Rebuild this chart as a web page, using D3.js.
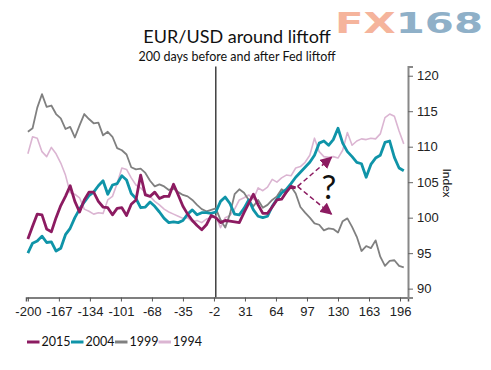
<!DOCTYPE html>
<html>
<head>
<meta charset="utf-8">
<script src="https://cdn.jsdelivr.net/npm/d3@7"></script>
<style>
  body { margin: 0; background: #fff; }
  svg { display: block; font-family: Lato, "Noto Sans", sans-serif; }
  .tick text { fill: #222; font-size: 13px; }
</style>
</head>
<body>
<svg id="chart" width="491" height="370"></svg>
<script>
// days relative to Fed liftoff, every 5 trading days
const days = d3.range(-200, 201, 5);

const series2015 = [
  97.0, 98.8, 100.5, 100.4, 98.4, 98.0, 100.0, 101.7, 103.0, 104.5,
  102.3, 100.8, 102.5, 103.6, 103.6, 102.3, 101.5, 101.4, 100.4, 101.3,
  101.4, 100.3, 101.9, 102.5, 106.0, 103.2, 103.0, 103.6, 102.7, 103.0,
  103.0, 104.7, 103.2, 101.6, 100.5, 99.6, 98.9, 98.3, 99.0, 100.3,
  100.0, 99.3, 99.6, 99.5, 99.4, 99.3, 100.7, 102.0, 103.3, 101.8,
  100.6, 100.6, 101.5, 102.5, 102.6, 103.6, 104.4, 104.2,
  null, null, null, null, null, null, null, null, null, null, null, null,
  null, null, null, null, null, null, null, null, null, null, null
];

const series2004 = [
  95.0, 96.4, 96.7, 97.4, 96.5, 96.6, 95.3, 95.7, 97.6, 98.5,
  100.0, 101.2, 102.2, 103.1, 103.6, 104.5, 105.2, 103.3, 104.6, 104.8,
  105.9, 105.3, 103.4, 102.7, 101.4, 101.5, 102.2, 101.6, 100.8, 99.9,
  99.3, 99.4, 99.3, 99.6, 100.5, 101.1, 100.4, 100.7, 100.7, 100.6,
  100.8, 102.3, 102.9, 102.0, 100.5, 100.4, 101.3, 102.5, 101.1, 100.2,
  100.0, 100.2, 101.6, 102.6, 103.5, 104.0, 104.8, 105.7, 106.4, 107.1,
  107.8, 108.8, 110.5, 110.8, 110.2, 111.0, 112.6, 110.5, 109.3, 108.6,
  107.8, 107.6, 105.7, 107.5, 108.4, 108.8, 110.6, 110.8, 108.5, 107.0,
  106.6
];

const series1999 = [
  112.1, 112.6, 115.5, 117.4, 115.6, 115.8, 114.6, 114.0, 112.5, 112.8,
  111.3, 113.0, 114.6, 113.9, 113.3, 113.4, 111.6, 112.1, 111.4, 109.8,
  109.5, 108.9, 107.1, 106.8, 106.9, 106.3, 105.2, 104.4, 104.7, 104.4,
  103.9, 104.1, 103.6, 103.2, 103.0, 102.5, 101.8, 101.2, 100.9, 101.1,
  101.3, 99.7, 98.6, 100.5, 103.3, 104.0, 103.5, 102.5, 101.6, 102.5,
  101.4, 101.8, 102.5, 103.0, 104.0, 103.5, 104.4, 103.4, 101.5, 100.7,
  100.0, 99.2, 99.0, 98.2, 98.5, 98.4, 97.9, 99.5, 99.9, 98.7,
  97.3, 95.3, 96.0, 95.7, 96.8, 94.5, 93.2, 93.9, 94.0, 93.2,
  93.0
];

const series1994 = [
  109.0, 111.4, 111.2, 109.3, 108.6, 109.9, 109.0, 107.7, 106.0, 103.5,
  103.3, 102.8, 101.2, 100.9, 100.5, 100.7, 100.6, 102.5, 103.0, 104.8,
  107.0, 106.8, 105.6, 104.6, 104.2, 103.5, 103.0, 102.3, 101.8, 101.2,
  100.8, 100.5, 100.2, 99.9, 100.0, 99.4, 99.6, 99.3, 99.8, 100.0,
  100.2, 98.6, 100.0, 100.3, 101.2, 102.5, 102.8, 103.2, 102.6, 104.2,
  103.8, 104.3, 105.4, 105.0, 105.6, 106.0, 105.9, 107.0, 107.2, 107.8,
  108.8, 111.2, 109.3, 108.6, 108.5, 108.6, 108.4, 109.5, 112.0, 110.2,
  110.8, 111.1, 111.0, 111.2, 111.1, 111.8, 114.1, 114.6, 114.3, 112.2,
  110.4
];

const seriesNames = ['2015', '2004', '1999', '1994'];
const seriesColors = ['#8c1b61', '#0f94a8', '#808080', '#dbb5d2'];
const seriesWidths = [2.8, 2.8, 1.8, 1.6];
const seriesValues = [series2015, series2004, series1999, series1994];

const xTicks = d3.range(-200, 197, 33);
const yTicks = [90, 95, 100, 105, 110, 115, 120];

const svg = d3.select('#chart');

const x = d3.scaleLinear().domain([-202, 204.5]).range([26, 408]);
const y = d3.scaleLinear().domain([88.75, 121.3]).range([297.5, 66.5]);

// titles
svg.append('text')
  .attr('x', 237).attr('y', 43)
  .attr('text-anchor', 'middle')
  .style('font-size', '18px').style('fill', '#111')
  .text('EUR/USD around liftoff');

svg.append('text')
  .attr('x', 237).attr('y', 61)
  .attr('text-anchor', 'middle')
  .style('font-size', '12.5px').style('fill', '#111')
  .text('200 days before and after Fed liftoff');

// FX168 mark
const logo = svg.append('text')
  .attr('x', 335).attr('y', 33)
  .attr('textLength', 148).attr('lengthAdjust', 'spacingAndGlyphs')
  .style('font-family', '"DejaVu Sans", sans-serif')
  .style('font-weight', 'bold').style('font-size', '29px');
logo.append('tspan').attr('fill', '#f5b49c').text('FX');
logo.append('tspan').attr('fill', '#8fb0c8').text('168');

// liftoff line
svg.append('line')
  .attr('x1', x(0)).attr('x2', x(0))
  .attr('y1', 66.5).attr('y2', 297.5)
  .attr('stroke', '#111').attr('stroke-width', 1.2);

// lines, drawn back to front
const line = d3.line()
  .defined(d => d[1] != null)
  .x(d => x(d[0]))
  .y(d => y(d[1]));

[3, 2, 1, 0].forEach(i => {
  svg.append('path')
    .datum(days.map((d, j) => [d, seriesValues[i][j]]))
    .attr('fill', 'none')
    .attr('stroke', seriesColors[i])
    .attr('stroke-width', seriesWidths[i])
    .attr('stroke-linejoin', 'round')
    .attr('d', line);
});

// question arrows from the end of 2015
const defs = svg.append('defs');
defs.append('marker')
  .attr('id', 'head')
  .attr('viewBox', '0 0 10 10')
  .attr('refX', 9).attr('refY', 5)
  .attr('markerWidth', 8).attr('markerHeight', 8)
  .attr('markerUnits', 'strokeWidth')
  .attr('orient', 'auto')
  .append('path')
  .attr('d', 'M0,0L10,5L0,10Z')
  .attr('fill', '#8c1b61');

const arrowFrom = [87, 104.4];
const arrowTo = [[123, 108.5], [123, 100.5]];
arrowTo.forEach(t => {
  svg.append('line')
    .attr('x1', x(arrowFrom[0])).attr('y1', y(arrowFrom[1]))
    .attr('x2', x(t[0])).attr('y2', y(t[1]))
    .attr('stroke', '#8c1b61').attr('stroke-width', 1.5)
    .attr('stroke-dasharray', '5,3')
    .attr('marker-end', 'url(#head)');
});

svg.append('text')
  .attr('x', 329).attr('y', 199)
  .attr('text-anchor', 'middle')
  .style('font-size', '33px').style('fill', '#111')
  .text('?');

// axes
const xAxis = svg.append('g')
  .attr('transform', 'translate(0,297.5)')
  .call(d3.axisBottom(x).tickValues(xTicks).tickSize(4).tickPadding(5)
    .tickFormat(d => String(d)));
xAxis.select('.domain').attr('stroke', '#555').attr('stroke-width', 1.5);
xAxis.selectAll('.tick line').attr('stroke', '#555');

const yAxis = svg.append('g')
  .attr('transform', 'translate(408,0)')
  .call(d3.axisRight(y).tickValues(yTicks).tickSize(5).tickPadding(4));
yAxis.select('.domain').attr('stroke', '#888').attr('stroke-width', 2);
yAxis.selectAll('.tick line').attr('stroke', '#666');

svg.append('text')
  .attr('transform', 'translate(443,183) rotate(90)')
  .attr('text-anchor', 'middle')
  .style('font-size', '12px').style('fill', '#111')
  .text('Index');

// legend
const legendX = [27, 71, 115, 158.5];
const legend = svg.append('g').attr('transform', 'translate(0,342)');
seriesNames.forEach((name, i) => {
  legend.append('line')
    .attr('x1', legendX[i]).attr('x2', legendX[i] + 12.5)
    .attr('y1', 0).attr('y2', 0)
    .attr('stroke', seriesColors[i]).attr('stroke-width', 3);
  legend.append('text')
    .attr('x', legendX[i] + 14.5).attr('y', 0).attr('dy', '0.35em')
    .style('font-size', '12.5px').style('fill', '#111')
    .text(name);
});
</script>
</body>
</html>
